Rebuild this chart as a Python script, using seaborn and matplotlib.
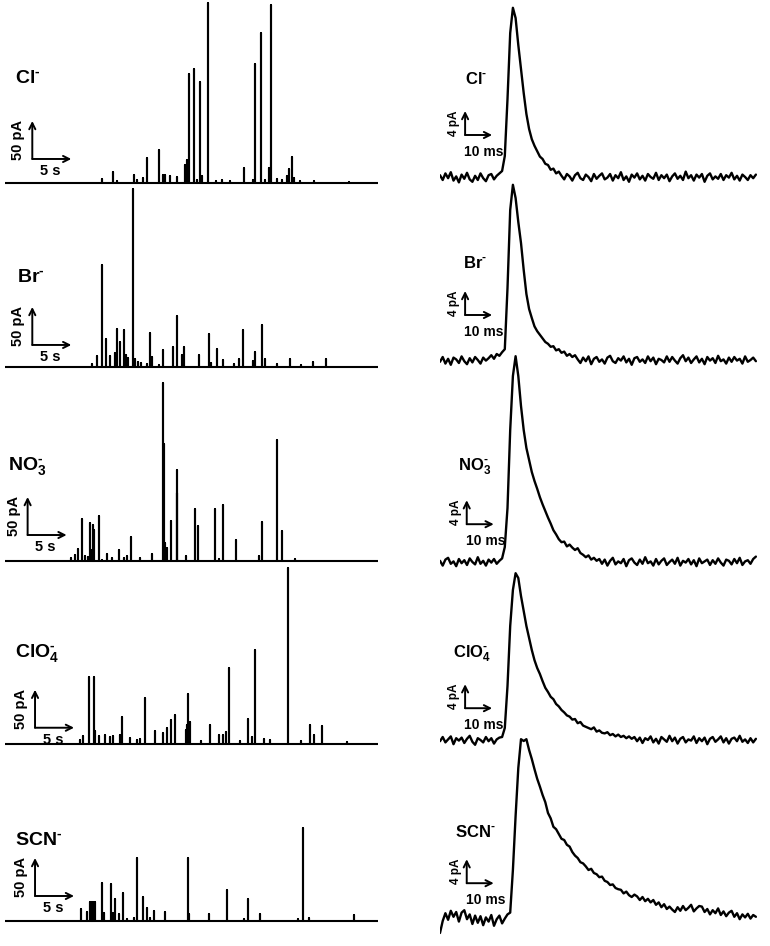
import numpy as np
import pandas as pd
import seaborn as sns
import matplotlib
matplotlib.use('Agg')
import matplotlib.pyplot as plt

sns.set_style('white')
plt.rcParams['font.family'] = ['Liberation Sans', 'DejaVu Sans']
plt.rcParams['font.weight'] = 'bold'
plt.rcParams['text.color'] = 'black'
plt.rcParams['mathtext.fontset'] = 'custom'
plt.rcParams['mathtext.rm'] = 'Liberation Sans:bold'
plt.rcParams['mathtext.it'] = 'Liberation Sans:bold'
plt.rcParams['mathtext.bf'] = 'Liberation Sans:bold'

ions = [r'$\mathrm{Cl}^{\text{-}}$', r'$\mathrm{Br}^{\text{-}}$', r'$\mathrm{NO}_3^{\text{-}}$',
        r'$\mathrm{ClO}_4^{\text{-}}$', r'$\mathrm{SCN}^{\text{-}}$']

# ---- left column: spike trains, time (s) and amplitude (pA) ----
cl_t = [12.5, 13.9, 14.3, 16.6, 16.9, 17.7, 18.2, 19.7, 20.2, 20.5, 21.2, 22.1, 23.1,
        23.3, 23.6, 24.2, 24.6, 25.0, 25.2, 26.0, 27.1, 27.8, 28.85, 30.6, 31.8, 32.05,
        32.8, 33.3, 33.9, 34.06, 34.9, 35.5, 36.1, 36.45, 36.8, 37.1, 37.8, 39.65, 44.1]
cl_a = [5.3, 14, 3, 11, 4.4, 6.6, 32.5, 43.4, 11, 11, 8.8, 7.5, 24,
        30.7, 143.8, 150, 4.4, 133.3, 8.8, 237, 3, 4.4, 3, 19.7, 4.4, 156,
        197.4, 4.4, 19.7, 234.6, 5.3, 4.4, 8.8, 18.4, 34.2, 6.6, 3, 2.2, 1.7]

br_t = [11.1, 11.8, 12.5, 13.0, 13.5, 14.1, 14.3, 14.8, 15.2, 15.5, 15.8, 16.4, 16.7,
        17.1, 17.5, 18.2, 18.6, 18.9, 19.7, 20.3, 21.6, 22.1, 22.7, 22.9, 24.9, 26.1,
        26.4, 27.2, 27.9, 29.4, 30.0, 30.5, 31.8, 32.1, 33.0, 33.3, 34.9, 36.5, 38.0,
        39.5, 41.2]
br_a = [4.3, 14, 134.6, 36.8, 14, 18.4, 50, 32.5, 48.3, 16.2, 11.8, 234.2, 10.5,
        6.2, 5.3, 3.9, 44.7, 13.2, 3, 22.8, 26.3, 66.7, 16.2, 26.3, 16.2, 43.8,
        5.3, 23.7, 9.6, 3.9, 10.5, 48.3, 7.5, 19.3, 55.3, 10.5, 3.9, 10.9, 3,
        6.2, 10.5]

no3_t = [8.5, 9.0, 9.3, 9.9, 10.3, 10.6, 10.9, 11.1, 11.25, 11.45, 12.1, 12.5, 13.1,
         13.7, 14.6, 15.3, 15.7, 16.2, 17.3, 18.8, 20.2, 20.4, 20.5, 20.8, 21.3, 22.0,
         22.1, 23.2, 24.3, 24.7, 26.9, 27.4, 28.0, 29.6, 32.5, 32.9, 34.9, 35.5, 37.2]
no3_a = [4.3, 7.5, 15.4, 54.9, 6.2, 5.3, 50.4, 14, 47.8, 40.4, 58.8, 1.7, 8.8,
         4.3, 14.9, 4.3, 6.2, 31.6, 3.9, 9.6, 234.2, 153.6, 23.7, 17.5, 52.6, 119.4,
         89.5, 6.2, 68.8, 45.7, 68.8, 3, 74.1, 28, 6.6, 50.9, 159.6, 39.1, 2.2]

clo4_t = [9.6, 10.0, 10.8, 11.4, 11.6, 12.1, 12.8, 13.4, 13.9, 14.7, 15.0, 16.0, 16.9,
          17.3, 18.0, 19.2, 20.3, 20.8, 21.3, 21.8, 23.2, 23.3, 23.4, 23.5, 23.6, 23.7,
          25.1, 26.3, 27.4, 27.9, 28.3, 28.7, 30.1, 31.1, 31.7, 32.1, 33.2, 34.0, 36.3,
          38.0, 39.1, 39.6, 40.7, 43.8]
clo4_a = [5.7, 10.9, 87.8, 87.8, 16.7, 10.9, 12.2, 8.8, 10.1, 12.2, 35.5, 7.9, 5.7,
          7, 60.5, 16.7, 14.5, 21, 32, 37.8, 18, 25, 24, 65.8, 25, 28.6,
          3.6, 25.4, 11.4, 12.2, 15.4, 100, 3.6, 33.3, 9.2, 123.3, 6.6, 5.7, 231.6,
          3.6, 24.6, 12.2, 23.3, 2.2]

scn_t = [9.8, 10.5, 10.9, 11.0, 11.1, 11.2, 11.3, 11.4, 11.5, 12.5, 12.7, 13.6, 13.8,
         14.1, 14.6, 15.1, 15.7, 16.6, 16.9, 17.7, 18.2, 18.6, 19.1, 20.5, 23.4, 23.6,
         26.1, 28.4, 30.6, 31.2, 32.7, 37.6, 38.2, 39.0, 44.7]
scn_a = [15.4, 11.8, 25, 25, 24, 25, 25, 24, 25, 50.4, 10.9, 48.3, 10.9,
         28.6, 8.8, 37.2, 3, 4.3, 83.3, 31.6, 17.5, 4.3, 13.2, 12.2, 83.3, 9.6,
         8.8, 40.4, 3, 28.6, 8.8, 3, 122, 4.3, 7.5]

# ---- right column: averaged events, 1 ms samples (pA) ----
cl_evt = [0.3, -0.5, 0.6, -0.2, 0.8, -0.6, 0.1, -0.9, 0.4, -0.3, 0.7, -0.4, -0.8, 0.2,
          -0.5, 0.6, -0.2, -0.7, 0.3, 0.5, -0.4, 0.2, 0.6,
          1.0, 3.5, 13, 24, 28.2, 26.5, 22, 18, 14, 10.5, 8, 6.3, 5.2, 4.3, 3.4, 3.0,
          2.2, 2.0, 1.2, 1.4, 0.6, 0.9,
          0.2, -0.4, 0.5, 0.1, -0.6, 0.3, 0.7, -0.2, -0.5, 0.4, 0.0, -0.7, 0.5, -0.3,
          0.2, 0.6, -0.4, -0.1, 0.5, -0.6, 0.3, -0.2, 0.8, -0.5, 0.1, -0.8, 0.4, -0.1,
          0.6, -0.4, 0.2, -0.6, 0.5, 0.0, -0.3, 0.7, -0.5, 0.3, -0.2, 0.4, -0.7, 0.1,
          0.6, -0.3, 0.2, -0.5, 0.9, -0.2, 0.3, -0.6, 0.4, -0.1, 0.5, -0.8, 0.2, 0.6,
          -0.4, 0.1, -0.3, 0.5, -0.5, 0.3, -0.1, 0.7, -0.4, 0.2, -0.6, 0.4, 0.0, -0.5,
          0.3, -0.2, 0.4]
br_evt = [-0.3, 0.5, -0.6, 0.2, -0.8, 0.4, 0.1, -0.5, 0.6, -0.2, -0.7, 0.3, -0.4, 0.5,
          0.0, -0.6, 0.4, -0.1,
          0.3, 0.8, 0.2, 1.0, 0.7, 1.3, 1.8,
          12, 25, 29.2, 27, 23, 19.5, 15, 11, 8.5, 7, 5.6, 4.8, 4.2, 3.6, 3.0, 2.7, 2.2,
          2.3, 1.6, 1.8, 1.2, 1.4, 0.7, 1.0, 0.5, 0.8,
          0.1, -0.5, 0.4, -0.2, 0.6, -0.7, 0.2, 0.5, -0.3, 0.1, -0.6, 0.4, 0.7, -0.2,
          -0.5, 0.3, -0.1, 0.6, -0.4, 0.2, -0.8, 0.3, 0.5, -0.3, 0.1, -0.5, 0.6, -0.2,
          0.4, -0.7, 0.2, 0.0, -0.4, 0.6, -0.3, 0.5, -0.1, -0.6, 0.3, 0.8, -0.2, 0.4,
          -0.5, 0.1, 0.6, -0.4, 0.2, -0.7, 0.5, -0.1, 0.3, -0.5, 0.7, -0.2, 0.1, -0.6,
          0.4, -0.3, 0.5, -0.1, 0.2, -0.6, 0.6, -0.3, 0.0, 0.4, -0.2]
no3_evt = [0.2, -0.6, 0.4, 0.7, -0.3, 0.1, -0.7, 0.5, -0.2, 0.3, -0.5, 0.6, 0.0, -0.4,
           0.8, -0.3, 0.2, -0.6, 0.4, -0.1, 0.5, -0.3, 0.2,
           0.6, 2.5, 9, 22, 31, 34.3, 31, 26, 22, 19, 17, 15, 13.5, 12.2, 10.8, 9.6,
           8.5, 7.4, 6.4, 5.3, 4.6, 3.8, 3.3, 3.4, 2.6, 2.9, 2.4, 2.0, 2.3, 1.5, 1.2,
           0.8, 1.1, 0.4, 0.7, 0.2, 0.5,
           -0.3, 0.4, -0.6, 0.2, 0.7, -0.4, 0.1, -0.2, 0.5, -0.7, 0.3, 0.6, -0.1, -0.5,
           0.4, -0.3, 0.8, -0.2, 0.1, -0.6, 0.5, -0.4, 0.2, 0.6, -0.5, 0.0, 0.4, -0.3,
           0.7, -0.6, 0.2, -0.1, 0.5, -0.4, 0.3, -0.7, 0.6, -0.2, 0.1, 0.4, -0.5, 0.3,
           -0.3, 0.6, -0.1, -0.6, 0.4, 0.2, -0.4, 0.5, -0.2, 0.7, -0.5, 0.1, 0.3, -0.3,
           0.5, 0.9]
clo4_evt = [-0.2, 0.5, -0.4, 0.1, 0.6, -0.7, 0.3, -0.1, 0.4, -0.5, 0.2, 0.7, -0.3, -0.8,
            0.3, 0.0, -0.4, 0.5, -0.2, 0.3, -0.6, 0.1, 0.4,
            0.5, 2, 9, 19, 25, 27.8, 27, 24, 21.5, 19, 17, 15, 13.3, 12, 11, 9.8, 8.7,
            8.0, 7.2, 6.8, 6.0, 5.6, 5.0, 4.6, 4.1, 3.9, 3.4, 3.5, 2.8, 3.0, 2.4, 2.2,
            2.0, 1.8, 2.1, 1.4, 1.6, 1.2, 1.1, 1.3, 0.8, 1.0, 0.6, 0.9, 0.5, 0.7, 0.3,
            0.6, 0.2, 0.5,
            -0.2, 0.4, -0.5, 0.3, 0.0, 0.6, -0.4, 0.2, -0.6, 0.5, 0.1, -0.3, 0.7, -0.2,
            0.4, -0.6, 0.2, 0.5, -0.4, 0.1, -0.1, 0.6, -0.5, 0.3, -0.2, 0.4, -0.7, 0.2,
            0.5, -0.3, 0.1, 0.6, -0.4, 0.3, -0.6, 0.2, 0.4, -0.2, 0.7, -0.3, 0.1, -0.5,
            0.3, -0.4, 0.2]
scn_evt = [-2.5, -0.5, 0.8, -0.3, 1.2, 0.2, 1.0, -0.6, 0.9, 1.3, -0.2, 0.6, -1.0, 0.4,
           -0.8, 0.3, -1.2, 0.1, -0.6, 0.5, -1.3, -0.2, 0.4, -0.9, -0.1, 0.6, 0.9,
           8, 17, 25, 29.8, 29.5, 29.8, 28, 26.5, 24.8, 23.2, 21.9, 20.5, 19.3, 17.5,
           16.6, 15.2, 14.8, 14.0, 13.2, 13.0, 12.2, 11.9, 11.0, 10.4, 10.0, 9.3, 9.1,
           8.6, 8.0, 8.2, 7.5, 7.3, 6.8, 6.9, 6.2, 6.0, 5.5, 5.6, 5.0, 4.8, 4.7, 4.1,
           4.4, 3.8, 3.5, 3.9, 3.6, 3.0, 3.5, 2.8, 3.2, 2.6, 3.0, 2.2, 2.6, 1.8, 2.3,
           1.5, 1.9, 1.4, 1.0, 1.8, 1.2, 2.0, 1.3, 1.7, 2.2, 1.1, 1.6, 2.0, 1.9, 1.0,
           1.5, 0.6, 1.3, 0.8, 1.6, 0.5, 1.1, 0.3, 0.9, 1.2, 0.2, 0.8, -0.2, 0.6, 0.1,
           0.7, -0.1, 0.5, 0.2]

left_spikes = [(cl_t, cl_a), (br_t, br_a), (no3_t, no3_a), (clo4_t, clo4_a), (scn_t, scn_a)]
right_events = [cl_evt, br_evt, no3_evt, clo4_evt, scn_evt]

# ---- layout (pixels of the 770x946 canvas) ----
W, H = 770, 946
L_BASE = [183, 367, 561, 744, 921]
R_BASE = [177, 360, 562, 740, 918]
L_PX_S, L_PX_PA = 7.8, 0.76      # px per second, px per pA
R_PX_MS, R_PX_PA = 2.7, 6.0      # px per ms, px per pA
L_X0, L_X1 = 5, 378
R_X0, R_X1 = 440, 757
L_YLIM = (-13, 245)
R_YLIM = (-4, 36)

# scale bar corners (data units) and ion label positions (px, baseline)
L_BAR = [(3.5, 31.6), (3.5, 29.0), (2.9, 34.2), (3.85, 21.4), (3.85, 32.9)]
R_BAR = [(9.3, 7.0), (9.3, 7.5), (9.9, 6.3), (9.3, 5.3), (9.9, 5.8)]
L_LAB = [(15, 83), (17, 282), (8, 470), (15, 657), (15, 845)]
R_LAB = [(465, 84), (463, 268), (458, 470), (453, 658), (455, 837)]


def px_axes(fig, x0, x1, y_top, y_bot):
    ax = fig.add_axes([x0 / W, 1 - y_bot / H, (x1 - x0) / W, (y_bot - y_top) / H])
    ax.set_axis_off()
    ax.patch.set_alpha(0)
    return ax


def spike_frame(times, amps, t_end):
    t, y = [0.0], [0.0]
    for ti, ai in zip(times, amps):
        t += [ti, ti, ti]
        y += [0.0, ai, 0.0]
    t.append(t_end)
    y.append(0.0)
    return pd.DataFrame({'time': t, 'current': y})


def scale_bar(ax, corner, dx, dy, xlab, ylab, yoff, xoff, fs_y, fs_x):
    cx, cy = corner
    arrow = dict(arrowstyle='->', lw=1.4, color='black', shrinkA=0, shrinkB=0,
                 mutation_scale=11)
    ax.annotate('', xy=(cx, cy + dy), xytext=(cx, cy), arrowprops=arrow)
    ax.annotate('', xy=(cx + dx, cy), xytext=(cx, cy), arrowprops=arrow)
    ax.annotate(ylab, xy=(cx, cy), xytext=(yoff[0] * 0.72, yoff[1] * 0.72),
                textcoords='offset points', ha='center', va='center', rotation=90,
                fontsize=fs_y, fontweight='bold', color='black')
    ax.annotate(xlab, xy=(cx, cy), xytext=(xoff[0] * 0.72, xoff[1] * 0.72),
                textcoords='offset points', ha='center', va='center',
                fontsize=fs_x, fontweight='bold', color='black')


fig = plt.figure(figsize=(7.7, 9.46), dpi=100)

l_tmax = (L_X1 - L_X0) / L_PX_S
r_tmax = (R_X1 - R_X0) / R_PX_MS

for i in range(5):
    # left: spike train
    b = L_BASE[i]
    ax = px_axes(fig, L_X0, L_X1, b - L_YLIM[1] * L_PX_PA, b - L_YLIM[0] * L_PX_PA)
    df = spike_frame(left_spikes[i][0], left_spikes[i][1], l_tmax)
    sns.lineplot(data=df, x='time', y='current', ax=ax, color='black', lw=1.5,
                 sort=False, estimator=None)
    ax.set_xlim(0, l_tmax)
    ax.set_ylim(*L_YLIM)
    ax.set_axis_off()
    scale_bar(ax, L_BAR[i], 5, 50, '5 s', '50 pA', (-14, 19), (18, -12), 10.5, 10.5)
    fig.text(L_LAB[i][0] / W, 1 - L_LAB[i][1] / H, ions[i], fontsize=14,
             fontweight='bold', ha='left', va='baseline', color='black')

    # right: single event
    b = R_BASE[i]
    ax = px_axes(fig, R_X0, R_X1, b - R_YLIM[1] * R_PX_PA, b - R_YLIM[0] * R_PX_PA)
    evt = right_events[i]
    df = pd.DataFrame({'time': np.arange(len(evt), dtype=float), 'current': evt})
    sns.lineplot(data=df, x='time', y='current', ax=ax, color='black', lw=1.7,
                 sort=False, estimator=None)
    ax.set_xlim(0, r_tmax)
    ax.set_ylim(*R_YLIM)
    ax.set_axis_off()
    scale_bar(ax, R_BAR[i], 10, 4, '10 ms', '4 pA', (-11, 12), (19, -17), 8.5, 10)
    fig.text(R_LAB[i][0] / W, 1 - R_LAB[i][1] / H, ions[i], fontsize=12,
             fontweight='bold', ha='left', va='baseline', color='black')

fig.savefig('out.png', dpi=100, facecolor='white')
